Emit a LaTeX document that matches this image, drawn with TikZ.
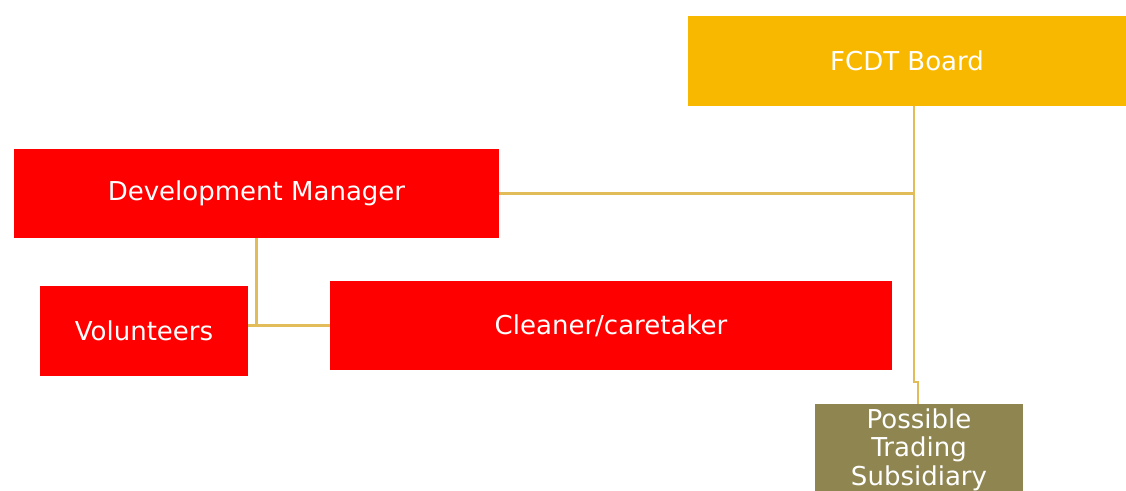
\documentclass[tikz,border=0pt]{standalone}
\usepackage{fontspec}
\setmainfont{DejaVu Sans}
\usetikzlibrary{positioning}

\definecolor{boardgold}{HTML}{F9B800}
\definecolor{staffred}{HTML}{FF0000}
\definecolor{tradeolive}{HTML}{8F8550}
\definecolor{linkgold}{HTML}{E2BC58}

\tikzset{
  post/.style={fill=#1, text=white, inner sep=2pt, align=center,
    font=\fontsize{14.8}{16.2}\selectfont},
  link/.style={draw=linkgold, line width=1.2pt}
}

\begin{document}
\begin{tikzpicture}
        \useasboundingbox (0,0) rectangle (22.52,9.8);

        \node[post=boardgold, minimum width=8.76cm, minimum height=1.8cm] (B) at (18.14,8.58) {FCDT Board};
        \node[post=staffred, minimum width=9.7cm, minimum height=1.78cm] (D) at (5.13,5.93) {Development Manager};
        \node[post=staffred, minimum width=4.16cm, minimum height=1.8cm] (V) at (2.88,3.18) {Volunteers};
        \node[post=staffred, minimum width=11.24cm, minimum height=1.78cm] (C) at (12.22,3.29) {Cleaner/caretaker};
        \node[post=tradeolive, anchor=north, minimum width=4.16cm, minimum height=1.8cm, inner sep=0pt] (T) at (18.38,1.72) {Possible\\Trading\\Subsidiary};

        \coordinate (spine) at (18.28,5.93);
        \coordinate (bend) at (18.36,2.16);

        \draw[link] (B.south -| spine) -- (spine |- bend) -- (bend) -- (T.north -| bend);
        \draw[link] (D.east) -- (spine);
        \draw[link] (D.south) |- (C.west);
        \draw[link] (D.south |- C.west) -- (V.east |- C.west);

        \end{tikzpicture}
\end{document}
